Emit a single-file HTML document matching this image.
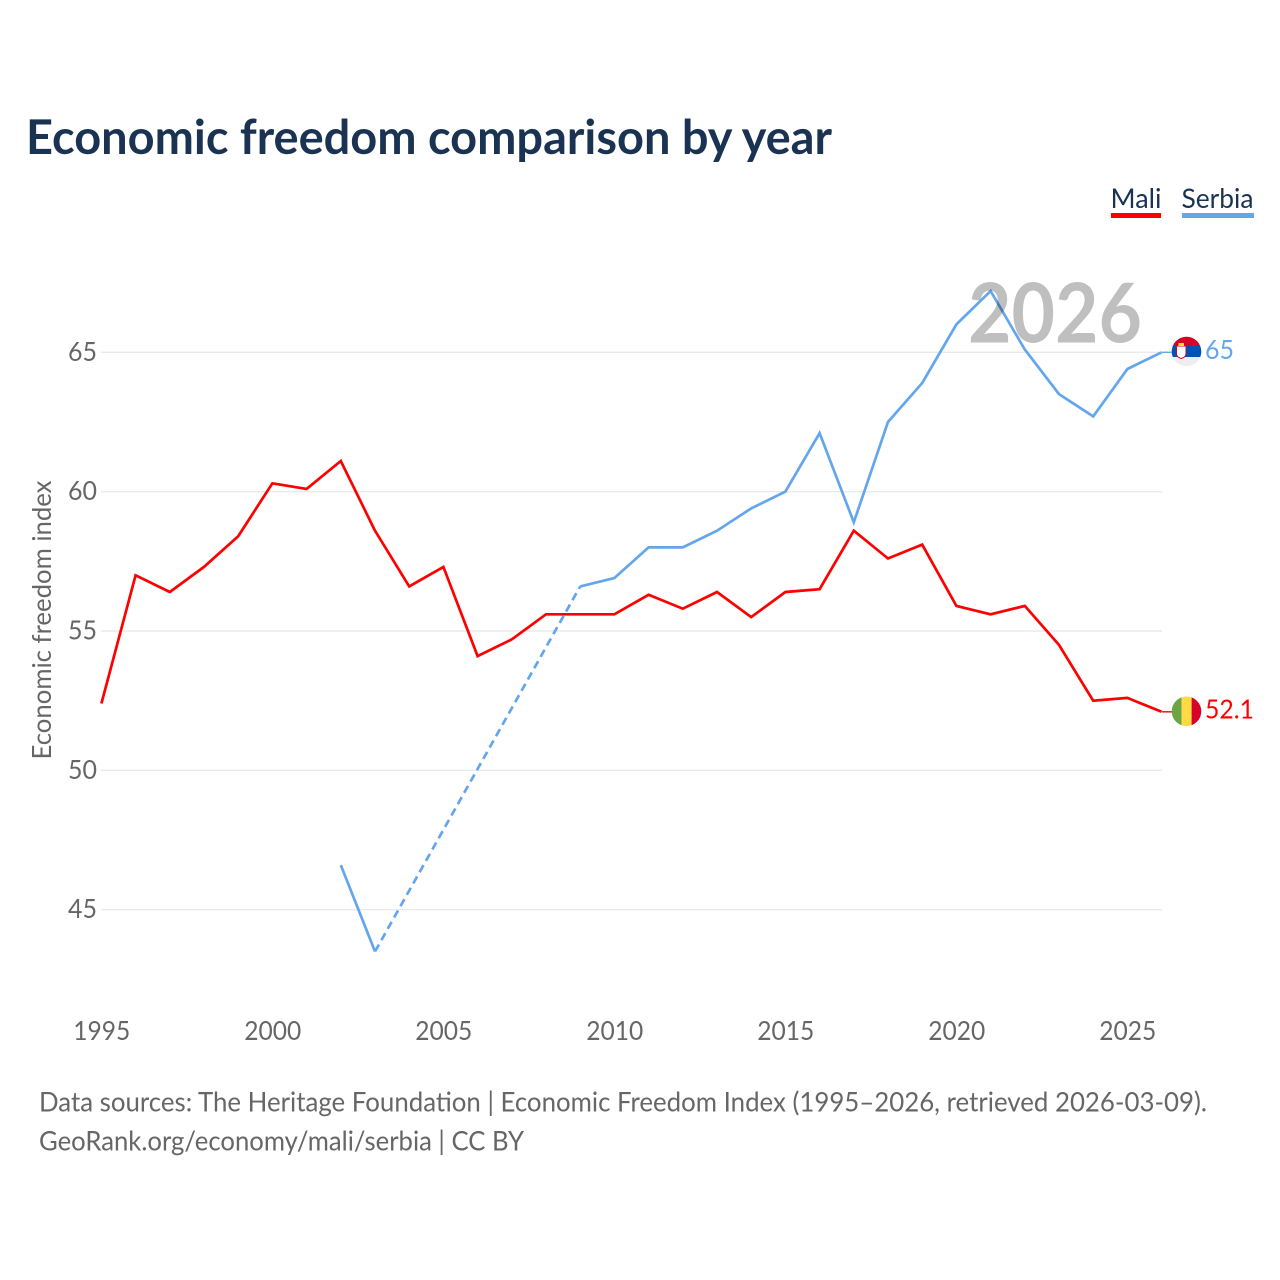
<!DOCTYPE html>
<html lang="en">
<head>
<meta charset="utf-8">
<title>Economic freedom comparison by year</title>
<style>
  html, body { margin: 0; padding: 0; background: #fff; }
  svg { display: block; }
  text { font-family: "Lato", "Carlito", "Liberation Sans", sans-serif; }
</style>
</head>
<body>
<svg id="chart" xmlns="http://www.w3.org/2000/svg" width="1280" height="1280" viewBox="0 0 1280 1280">
  <defs>
    <clipPath id="flag-clip-serbia"><circle cx="1186.5" cy="351.5" r="14.8"></circle></clipPath>
    <clipPath id="flag-clip-mali"><circle cx="1186.5" cy="711.3" r="14.8"></circle></clipPath>
  </defs>
  <rect x="0" y="0" width="1280" height="1280" fill="#ffffff"></rect>
  <text x="26" y="154" font-size="48" font-weight="700" fill="#1a3353" textLength="806" lengthAdjust="spacingAndGlyphs">Economic freedom comparison by year</text>

  <g>
    <g>
      <text x="1110.500" y="208" font-size="27.500" fill="#1a3353" textLength="51" lengthAdjust="spacingAndGlyphs">Mali</text>
      <rect x="1111" y="213" width="50" height="5" fill="#ff0000"></rect>
    </g>
    <g>
      <text x="1181.500" y="208" font-size="27.500" fill="#1a3353" textLength="72" lengthAdjust="spacingAndGlyphs">Serbia</text>
      <rect x="1182" y="213" width="72" height="5" fill="#63a6ee"></rect>
    </g>
  </g>

  <g id="grid"></g>
  <g id="y-ticks"></g>
  <g id="x-ticks"></g>
  <text transform="translate(51,620) rotate(-90)" text-anchor="middle" font-size="26.500" fill="#666666" textLength="279" lengthAdjust="spacingAndGlyphs">Economic freedom index</text>

  <g id="series"></g>
  <text id="year-watermark" x="968" y="342.5" font-size="82" font-weight="700" fill="#000000" fill-opacity="0.25" textLength="174" lengthAdjust="spacingAndGlyphs">2026</text>

  <g clip-path="url(#flag-clip-serbia)">
    <rect x="1170" y="335" width="34" height="33" fill="#eeeeee"></rect>
    <rect x="1170" y="335" width="34" height="11" fill="#d80027"></rect>
    <rect x="1170" y="346" width="34" height="11" fill="#0052b4"></rect>
    <path d="M1176.500 346 h9.500 v8 q0 3 -4.750 4.500 q-4.750 -1.500 -4.750 -4.500 z" fill="#ffffff" stroke="#d80027" stroke-width="1"></path>
    <rect x="1178.500" y="343" width="5.500" height="3" fill="#ffda44"></rect>
  </g>
  <g clip-path="url(#flag-clip-mali)">
    <rect x="1171" y="696" width="10.600" height="31" fill="#6da544"></rect>
    <rect x="1181.600" y="696" width="10" height="31" fill="#ffda44"></rect>
    <rect x="1191.600" y="696" width="11" height="31" fill="#d80027"></rect>
  </g>
  <g id="end-labels"></g>

  <text x="39" y="1111.500" font-size="27" fill="#666666" textLength="1168" lengthAdjust="spacingAndGlyphs">Data sources: The Heritage Foundation | Economic Freedom Index (1995–2026, retrieved 2026-03-09).</text>
  <text x="39" y="1150.500" font-size="27" fill="#666666" textLength="485" lengthAdjust="spacingAndGlyphs">GeoRank.org/economy/mali/serbia | CC BY</text>
</svg>

<script>
const years = [1995,1996,1997,1998,1999,2000,2001,2002,2003,2004,2005,2006,2007,2008,2009,2010,2011,2012,2013,2014,2015,2016,2017,2018,2019,2020,2021,2022,2023,2024,2025,2026];
const maliValues = [52.4,57.0,56.4,57.3,58.4,60.3,60.1,61.1,58.6,56.6,57.3,54.1,54.7,55.6,55.6,55.6,56.3,55.8,56.4,55.5,56.4,56.5,58.6,57.6,58.1,55.9,55.6,55.9,54.5,52.5,52.6,52.1];
const serbiaValues = [null,null,null,null,null,null,null,46.6,43.5,null,null,null,null,null,56.6,56.9,58.0,58.0,58.6,59.4,60.0,62.1,58.9,62.5,63.9,66.0,67.2,65.1,63.5,62.7,64.4,65.0];
const xTickYears = [1995,2000,2005,2010,2015,2020,2025];
const yTickValues = [45,50,55,60,65];

const NS = 'http://www.w3.org/2000/svg';
const plotRight = 1162;
const MALI = '#ff0000', SERBIA = '#63a6ee';

function xScale(year) {
  return 101.4 + (year - 1995) * 34.2;
}
function yScale(value) {
  return 352.3 + (65 - value) * 27.87;
}
function make(tag, attrs, parent) {
  const el = document.createElementNS(NS, tag);
  for (const k in attrs) el.setAttribute(k, attrs[k]);
  parent.appendChild(el);
  return el;
}

const grid = document.getElementById('grid');
const yTicks = document.getElementById('y-ticks');
yTickValues.forEach(function (v) {
  const line = make('line', { x1: 101, x2: plotRight, y1: yScale(v), y2: yScale(v), stroke: '#eaeaea', 'stroke-width': 1.4 }, grid);
  
  
  const label = make('text', { x: 97, y: yScale(v) + 8.5, 'text-anchor': 'end', 'font-size': 26.5, fill: '#666666', textLength: 29, lengthAdjust: 'spacingAndGlyphs' }, yTicks);
  
  
  label.textContent = String(v);
});

const xTicks = document.getElementById('x-ticks');
xTickYears.forEach(function (y) {
  const label = make('text', { x: xScale(y) + 0.4, y: 1040, 'text-anchor': 'middle', 'font-size': 26.5, fill: '#666666', textLength: 57, lengthAdjust: 'spacingAndGlyphs' }, xTicks);
  
  
  label.textContent = String(y);
});

const series = document.getElementById('series');
function drawSeries(name, values, color) {
  let solid = '';
  let dashed = '';
  let prev = -1;
  values.forEach(function (v, i) {
    if (v === null) return;
    const pt = xScale(years[i]).toFixed(1) + ' ' + yScale(v).toFixed(1);
    if (prev === -1) {
      solid += 'M' + pt;
    } else if (prev === i - 1) {
      solid += 'L' + pt;
    } else {
      dashed += 'M' + xScale(years[prev]).toFixed(1) + ' ' + yScale(values[prev]).toFixed(1) + 'L' + pt;
      solid += 'M' + pt;
    }
    prev = i;
  });
  if (dashed) {
    const gap = make('path', { d: dashed, fill: 'none', stroke: color, 'stroke-width': 2.7, 'stroke-dasharray': '8 5' }, series);
    
    
  }
  const path = make('path', { d: solid, fill: 'none', stroke: color, 'stroke-width': 2.7, 'stroke-linejoin': 'miter' }, series);
  
  
  const lastY = yScale(values[values.length - 1]);
  const leader = make('line', { x1: plotRight, x2: 1172, y1: lastY, y2: lastY, stroke: color, 'stroke-width': 1.4 }, series);
  
  
}
drawSeries('mali', maliValues, MALI);
drawSeries('serbia', serbiaValues, SERBIA);

const endLabels = document.getElementById('end-labels');
function drawEndLabel(name, values, color, width) {
  const v = values[values.length - 1];
  const label = make('text', { x: 1205, y: yScale(v) + 6.5, 'font-size': 26.5, fill: color, textLength: width, lengthAdjust: 'spacingAndGlyphs' }, endLabels);
  
  
  label.textContent = String(v);
}
drawEndLabel('mali', maliValues, MALI, 49);
drawEndLabel('serbia', serbiaValues, SERBIA, 29);
</script>
</body>
</html>
